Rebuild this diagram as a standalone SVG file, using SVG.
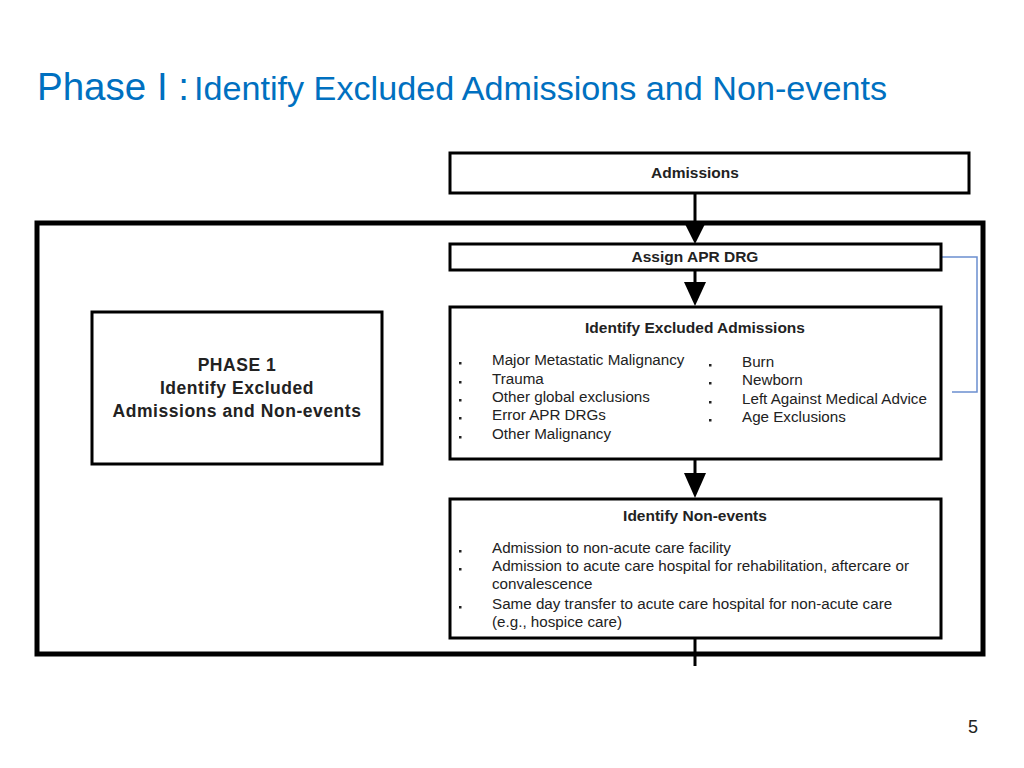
<svg xmlns="http://www.w3.org/2000/svg" width="1024" height="768" viewBox="0 0 1024 768">
<style>
.box{fill:#fff;stroke:#000;stroke-width:3}
.t{font-family:"Liberation Sans",Arial,sans-serif;font-size:15.2px;fill:#222}
.b{font-weight:bold;text-anchor:middle;font-size:15.5px}
.p{font-family:"Liberation Sans",Arial,sans-serif;font-size:17.5px;font-weight:bold;fill:#222;text-anchor:middle;letter-spacing:0.55px}
.blt{fill:#222}
.ln{stroke:#000;stroke-width:3;fill:none}
.hd{fill:#000}
.ttl{font-family:"Liberation Sans",Arial,sans-serif;fill:#0070c0}
</style>
<rect width="1024" height="768" fill="#fff"/>
<g id="title">
<text class="ttl" x="37" y="100" font-size="38" textLength="152" lengthAdjust="spacingAndGlyphs">Phase I :</text>
<text class="ttl" x="194" y="100" font-size="34" textLength="693" lengthAdjust="spacingAndGlyphs">Identify Excluded Admissions and Non-events</text>
</g>
<g id="outer"><rect x="37" y="223" width="946" height="431" fill="none" stroke="#000" stroke-width="5"/></g>
<g id="connectors">
<line class="ln" x1="695" y1="193" x2="695" y2="226"/>
<polygon class="hd" points="684,222 706,222 695,244"/>
<line class="ln" x1="695" y1="270" x2="695" y2="286"/>
<polygon class="hd" points="684,282 706,282 695,306"/>
<line class="ln" x1="695" y1="459" x2="695" y2="476"/>
<polygon class="hd" points="684,473 706,473 695,498"/>
<line class="ln" x1="695" y1="638" x2="695" y2="666"/>
<polyline points="942,257 977,257 977,392 952,392" fill="none" stroke="#6b8fd0" stroke-width="1.5"/>
</g>
<g id="admissions">
<rect class="box" x="450" y="153" width="519" height="40"/>
<text class="t b" x="695" y="178">Admissions</text>
</g>
<g id="assign">
<rect class="box" x="450" y="244" width="491" height="26"/>
<text class="t b" x="695" y="262">Assign APR DRG</text>
</g>
<g id="phase1">
<rect class="box" x="92" y="312" width="290" height="152"/>
<text class="p" x="237" y="371">PHASE 1</text>
<text class="p" x="237" y="394">Identify Excluded</text>
<text class="p" x="237" y="417">Admissions and Non-events</text>
</g>
<g id="excluded">
<rect class="box" x="450" y="307" width="491" height="152"/>
<text class="t b" x="695" y="333">Identify Excluded Admissions</text>
<g class="blt">
<rect x="459" y="362" width="2.5" height="2.5"/>
<rect x="459" y="381" width="2.5" height="2.5"/>
<rect x="459" y="399" width="2.5" height="2.5"/>
<rect x="459" y="417" width="2.5" height="2.5"/>
<rect x="459" y="436" width="2.5" height="2.5"/>
<rect x="709" y="364" width="2.5" height="2.5"/>
<rect x="709" y="382" width="2.5" height="2.5"/>
<rect x="709" y="401" width="2.5" height="2.5"/>
<rect x="709" y="419" width="2.5" height="2.5"/>
</g>
<text class="t" x="492" y="365">Major Metastatic Malignancy</text>
<text class="t" x="492" y="384">Trauma</text>
<text class="t" x="492" y="402">Other global exclusions</text>
<text class="t" x="492" y="420">Error APR DRGs</text>
<text class="t" x="492" y="439">Other Malignancy</text>
<text class="t" x="742" y="367">Burn</text>
<text class="t" x="742" y="385">Newborn</text>
<text class="t" x="742" y="404">Left Against Medical Advice</text>
<text class="t" x="742" y="422">Age Exclusions</text>
</g>
<g id="nonevents">
<rect class="box" x="450" y="499" width="491" height="139"/>
<text class="t b" x="695" y="521">Identify Non-events</text>
<g class="blt">
<rect x="459" y="550" width="2.5" height="2.5"/>
<rect x="459" y="568" width="2.5" height="2.5"/>
<rect x="459" y="606" width="2.5" height="2.5"/>
</g>
<text class="t" x="492" y="553">Admission to non-acute care facility</text>
<text class="t" x="492" y="571">Admission to acute care hospital for rehabilitation, aftercare or</text>
<text class="t" x="492" y="589">convalescence</text>
<text class="t" x="492" y="609">Same day transfer to acute care hospital for non-acute care</text>
<text class="t" x="492" y="627">(e.g., hospice care)</text>
</g>
<text x="968" y="733" font-family="'Liberation Sans',Arial,sans-serif" font-size="18" fill="#222">5</text>
</svg>
